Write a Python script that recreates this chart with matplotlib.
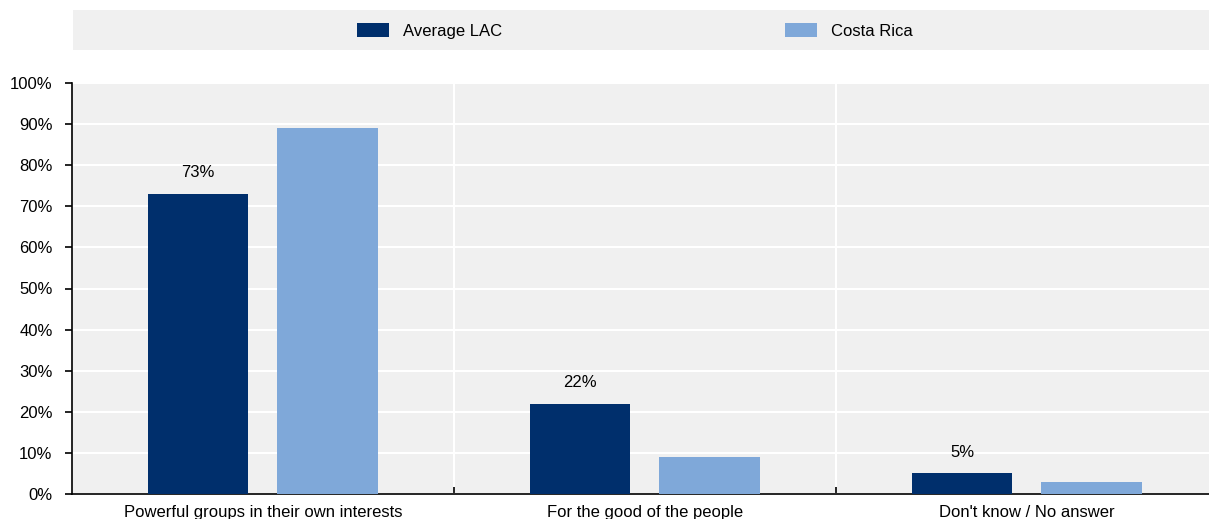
import matplotlib
matplotlib.use("Agg")
from matplotlib import pyplot as plt
from matplotlib.patches import Rectangle
import numpy as np

plt.rcParams['font.family'] = ['Liberation Sans', 'DejaVu Sans']

categories = ["Powerful groups in their own interests", "For the good of the people", "Don't know / No answer"]
avg_lac = [73, 22, 5]
costa_rica = [89, 9, 3]
series_names = ["Average LAC", "Costa Rica"]

dark = "#002F6C"
light = "#7FA8D9"
panel = "#F0F0F0"
fs = 12

fig = plt.figure(figsize=(12.09, 5.19), dpi=100)
ax = fig.add_axes([72 / 1209, 1 - 494 / 519, (1209 - 72) / 1209, 411 / 519])
ax.set_facecolor(panel)

x = np.arange(len(categories))
w = 0.264
b1 = ax.bar(x - 0.170, avg_lac, w, color=dark, zorder=3, label=series_names[0])
b2 = ax.bar(x + 0.168, costa_rica, w, color=light, zorder=3, label=series_names[1])

# value labels only on the regional average
for xi, v in zip(x - 0.170, avg_lac):
    ax.text(xi, v + 3.3, f"{v}%", ha="center", va="bottom", fontsize=fs)

ax.set_ylim(0, 100)
ax.set_xlim(-0.5, 2.5 - 9 / 382.5)
ax.set_yticks(np.arange(0, 101, 10))
ax.set_yticklabels([f"{t}%" for t in range(0, 101, 10)], fontsize=fs)
ax.yaxis.grid(True, color="white", linewidth=1.5, zorder=1)

# category separators as minor ticks / white lines
ax.set_xticks(x)
ax.set_xticklabels(categories, fontsize=fs)
ax.tick_params(axis="x", length=0, pad=8)
ax.set_xticks([0.5, 1.5], minor=True)
ax.tick_params(axis="x", which="minor", direction="in", length=5, width=1.2, color="black")
for sep in [0.5, 1.5]:
    ax.axvline(sep, color="white", linewidth=1.5, zorder=1)
ax.tick_params(axis="y", direction="out", length=5, width=1.2, pad=9)

for s in ["top", "right"]:
    ax.spines[s].set_visible(False)
ax.spines["left"].set_linewidth(1.2)
ax.spines["bottom"].set_linewidth(1.2)

# legend band
fig.patches.append(Rectangle((73 / 1209, 1 - 50 / 519), (1209 - 73) / 1209, 40 / 519,
                             transform=fig.transFigure, facecolor=panel, edgecolor="none", zorder=0))
fig.legend(handles=[b1, b2], labels=series_names, loc="center", ncol=2,
           bbox_to_anchor=(635 / 1209, 1 - 31 / 519), frameon=False, fontsize=fs,
           handlelength=1.9, handleheight=0.95, handletextpad=0.85, columnspacing=17.0)

fig.savefig("out.png", dpi=100)
